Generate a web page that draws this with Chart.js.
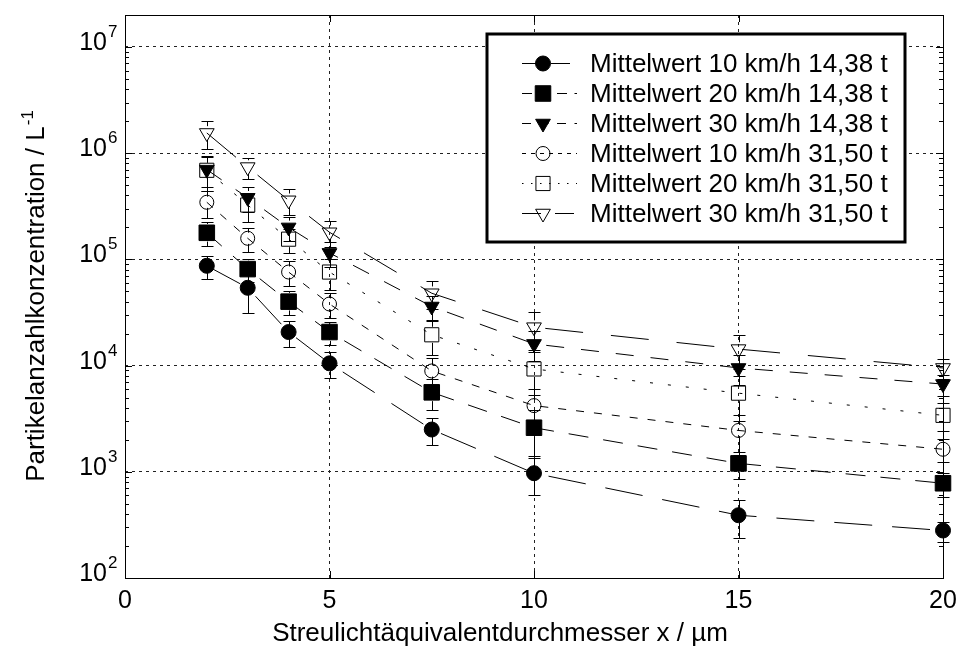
<!DOCTYPE html>
<html>
<head>
<meta charset="utf-8">
<title>Partikelanzahlkonzentration</title>
<script src="https://cdn.jsdelivr.net/npm/chart.js@4.4.0/dist/chart.umd.min.js"></script>
<style>
  html, body { margin: 0; padding: 0; background: #fff; }
</style>
</head>
<body>
<canvas id="chart" width="958" height="646"></canvas>
<script>
// Particle number concentration vs. scattered light equivalent diameter

// Data
const sizes = [2, 3, 4, 5, 7.5, 10, 15, 20];

const seriesLabels = [
  'Mittelwert 10 km/h 14,38 t',
  'Mittelwert 20 km/h 14,38 t',
  'Mittelwert 30 km/h 14,38 t',
  'Mittelwert 10 km/h 31,50 t',
  'Mittelwert 20 km/h 31,50 t',
  'Mittelwert 30 km/h 31,50 t'
];

const mean10_1438 = [87000, 54000, 20700, 10500, 2500, 970, 390, 280];
const mean20_1438 = [178000, 81000, 40000, 20700, 5600, 2600, 1200, 780];
const mean30_1438 = [700000, 380000, 200000, 115000, 36000, 16000, 9500, 6700];
const mean10_3150 = [345000, 158000, 76000, 38000, 8900, 4200, 2450, 1630];
const mean20_3150 = [690000, 325000, 155000, 76000, 19500, 9300, 5500, 3400];
const mean30_3150 = [1550000, 740000, 360000, 180000, 48000, 23000, 14300, 9500];

// standard deviation (symmetric error bars)
const sd10_1438 = [21000, 23000, 5700, 2900, 700, 370, 150, 60];
const sd20_1438 = [45000, 20000, 10000, 5000, 1800, 1200, 350, 200];
const sd30_1438 = [220000, 100000, 50000, 30000, 9000, 5000, 3000, 1500];
const sd10_3150 = [100000, 40000, 20000, 10000, 3000, 1800, 1000, 400];
const sd20_3150 = [250000, 100000, 40000, 25000, 7000, 4000, 2500, 1000];
const sd30_3150 = [450000, 170000, 100000, 50000, 14000, 9000, 5000, 2000];

const xTicks = [0, 5, 10, 15, 20];
const yExponents = [2, 3, 4, 5, 6, 7];

const xTitle = 'Streulichtäquivalentdurchmesser x / µm';
const yTitle = 'Partikelanzahlkonzentration / L';
const yTitleSup = '-1';

// Styles
const FONT = "'Liberation Sans', Arial, Helvetica, sans-serif";

const markerStyles = [
  { shape: 'circle', radius: 7.5, rotation: 0, fill: '#000', dash: [38, 20] },
  { shape: 'rect', radius: 11, rotation: 0, fill: '#000', dash: [20, 15] },
  { shape: 'triangle', radius: 8.5, rotation: 180, fill: '#000', dash: [18, 17] },
  { shape: 'circle', radius: 7, rotation: 0, fill: 'rgba(0,0,0,0)', dash: [8, 10] },
  { shape: 'rect', radius: 10, rotation: 0, fill: 'rgba(0,0,0,0)', dash: [3, 15] },
  { shape: 'triangle', radius: 8.5, rotation: 180, fill: 'rgba(0,0,0,0)', dash: [38, 28] }
];

const means = [mean10_1438, mean20_1438, mean30_1438, mean10_3150, mean20_3150, mean30_3150];
const sds = [sd10_1438, sd20_1438, sd30_1438, sd10_3150, sd20_3150, sd30_3150];

const datasets = means.map((vals, i) => {
  const st = markerStyles[i];
  return {
    label: seriesLabels[i],
    data: sizes.map((x, j) => ({ x: x, y: vals[j] })),
    errors: sds[i],
    clip: false,
    borderColor: '#000',
    borderWidth: 1,
    borderDash: st.dash,
    tension: 0,
    fill: false,
    pointStyle: st.shape,
    pointRadius: st.radius,
    pointHoverRadius: st.radius,
    pointRotation: st.rotation,
    pointBackgroundColor: st.fill,
    pointBorderColor: '#000',
    pointBorderWidth: 1
  };
});

// vertical error bars, drawn from marker edge outwards
const errorBars = {
  id: 'errorBars',
  beforeDatasetsDraw(chart) {
    const ctx = chart.ctx;
    const y = chart.scales.y;
    ctx.save();
    ctx.strokeStyle = '#000';
    ctx.lineWidth = 1;
    ctx.setLineDash([]);
    chart.data.datasets.forEach((ds, di) => {
      const meta = chart.getDatasetMeta(di);
      const r = markerStyles[di].radius * 0.8;
      meta.data.forEach((pt, i) => {
        const v = ds.data[i].y;
        const e = ds.errors[i];
        const px = Math.round(pt.x) + 0.5;
        const yTop = Math.round(y.getPixelForValue(v + e)) + 0.5;
        const yBot = Math.round(y.getPixelForValue(Math.max(v - e, 1))) + 0.5;
        ctx.beginPath();
        ctx.moveTo(px, yTop);
        ctx.lineTo(px, pt.y - r);
        ctx.moveTo(px, pt.y + r);
        ctx.lineTo(px, yBot);
        ctx.moveTo(px - 6, yTop);
        ctx.lineTo(px + 6, yTop);
        ctx.moveTo(px - 6, yBot);
        ctx.lineTo(px + 6, yBot);
        ctx.stroke();
      });
    });
    ctx.restore();
  }
};

function drawMarker(ctx, st, x, y) {
  ctx.save();
  ctx.setLineDash([]);
  ctx.lineWidth = 1;
  ctx.strokeStyle = '#000';
  ctx.fillStyle = st.fill;
  ctx.beginPath();
  const r = st.radius;
  if (st.shape === 'circle') {
    ctx.arc(x, y, r, 0, Math.PI * 2);
  } else if (st.shape === 'rect') {
    const h = r * Math.SQRT1_2;
    ctx.rect(x - h, y - h, h * 2, h * 2);
  } else {
    // triangle pointing down
    ctx.moveTo(x, y + r);
    ctx.lineTo(x - r * Math.sin(Math.PI / 3), y - r / 2);
    ctx.lineTo(x + r * Math.sin(Math.PI / 3), y - r / 2);
    ctx.closePath();
  }
  ctx.fill();
  ctx.stroke();
  ctx.restore();
}

// frame, inward ticks, y tick labels, axis titles and legend
const decorations = {
  id: 'decorations',
  afterDraw(chart) {
    const ctx = chart.ctx;
    const { left, right, top, bottom } = chart.chartArea;
    const xs = chart.scales.x;
    const ys = chart.scales.y;
    ctx.save();
    ctx.strokeStyle = '#000';
    ctx.fillStyle = '#000';
    ctx.lineWidth = 1;
    ctx.setLineDash([]);

    // frame
    ctx.strokeRect(Math.round(left) + 0.5, Math.round(top) + 0.5,
      Math.round(right - left), Math.round(bottom - top));

    // y ticks (major + minor)
    ctx.beginPath();
    yExponents.forEach(e => {
      for (let m = 1; m <= 9; m++) {
        const v = m * Math.pow(10, e);
        if (v > ys.max || v < ys.min) continue;
        const py = Math.round(ys.getPixelForValue(v)) + 0.5;
        const len = m === 1 ? 7 : 4;
        ctx.moveTo(left, py); ctx.lineTo(left + len, py);
        ctx.moveTo(right, py); ctx.lineTo(right - len, py);
      }
    });
    // x ticks
    xTicks.forEach(v => {
      const px = Math.round(xs.getPixelForValue(v)) + 0.5;
      ctx.moveTo(px, bottom); ctx.lineTo(px, bottom - 7);
      ctx.moveTo(px, top); ctx.lineTo(px, top + 7);
    });
    ctx.stroke();

    // y tick labels: 10 with superscript exponent
    yExponents.forEach(e => {
      const py = ys.getPixelForValue(Math.pow(10, e));
      ctx.font = '25px ' + FONT;
      ctx.textAlign = 'right';
      ctx.textBaseline = 'alphabetic';
      ctx.fillText('10', left - 18, py + 3);
      ctx.font = '17px ' + FONT;
      ctx.textAlign = 'left';
      ctx.fillText(String(e), left - 17, py - 10);
    });

    // x title
    ctx.font = '26px ' + FONT;
    ctx.textAlign = 'center';
    ctx.textBaseline = 'alphabetic';
    ctx.fillText(xTitle, 500, 641);

    // y title (rotated) with superscript
    ctx.save();
    ctx.translate(44, (top + bottom) / 2);
    ctx.rotate(-Math.PI / 2);
    ctx.font = '26px ' + FONT;
    const wMain = ctx.measureText(yTitle).width;
    ctx.font = '17px ' + FONT;
    const wSup = ctx.measureText(yTitleSup).width;
    const x0 = -(wMain + wSup) / 2;
    ctx.textAlign = 'left';
    ctx.font = '26px ' + FONT;
    ctx.fillText(yTitle, x0, 0);
    ctx.font = '17px ' + FONT;
    ctx.fillText(yTitleSup, x0 + wMain + 1, -11);
    ctx.restore();

    // legend
    const lx = 487, ly = 34, lw = 418, lh = 208;
    ctx.fillStyle = '#fff';
    ctx.fillRect(lx, ly, lw, lh);
    ctx.lineWidth = 3;
    ctx.strokeStyle = '#000';
    ctx.strokeRect(lx, ly, lw, lh);
    ctx.lineWidth = 1;
    chart.data.datasets.forEach((ds, i) => {
      const st = markerStyles[i];
      const ry = Math.round(ly + 29 + i * 30) + 0.5;
      ctx.save();
      ctx.setLineDash(st.dash.map(d => d * 0.5));
      ctx.beginPath();
      ctx.moveTo(522, ry);
      ctx.lineTo(577, ry);
      ctx.stroke();
      ctx.restore();
      drawMarker(ctx, st, 543, ry);
      ctx.fillStyle = '#000';
      ctx.font = '26px ' + FONT;
      ctx.textAlign = 'left';
      ctx.textBaseline = 'middle';
      ctx.fillText(ds.label, 590, ry + 1);
    });
    ctx.restore();
  }
};

new Chart(document.getElementById('chart'), {
  type: 'line',
  data: { datasets: datasets },
  options: {
    responsive: false,
    animation: false,
    events: [],
    layout: { padding: { top: 15, right: 15, left: 0, bottom: 0 } },
    plugins: {
      legend: { display: false },
      tooltip: { enabled: false }
    },
    scales: {
      x: {
        type: 'linear',
        min: 0,
        max: 20,
        afterBuildTicks: s => { s.ticks = xTicks.map(v => ({ value: v })); },
        afterFit: s => { s.height = 68; s.paddingLeft = 0; s.paddingRight = 0; },
        ticks: {
          color: '#000',
          font: { family: FONT, size: 25 },
          padding: 8,
          maxRotation: 0
        },
        grid: { color: '#222', lineWidth: 1, drawTicks: false },
        border: { display: false, dash: [3, 4] }
      },
      y: {
        type: 'logarithmic',
        min: 100,
        max: 2e7,
        afterBuildTicks: s => { s.ticks = yExponents.map(e => ({ value: Math.pow(10, e) })); },
        afterFit: s => { s.width = 125; s.paddingTop = 0; s.paddingBottom = 0; },
        ticks: { display: false },
        grid: { color: '#222', lineWidth: 1, drawTicks: false },
        border: { display: false, dash: [3, 4] }
      }
    }
  },
  plugins: [errorBars, decorations]
});
</script>
</body>
</html>
